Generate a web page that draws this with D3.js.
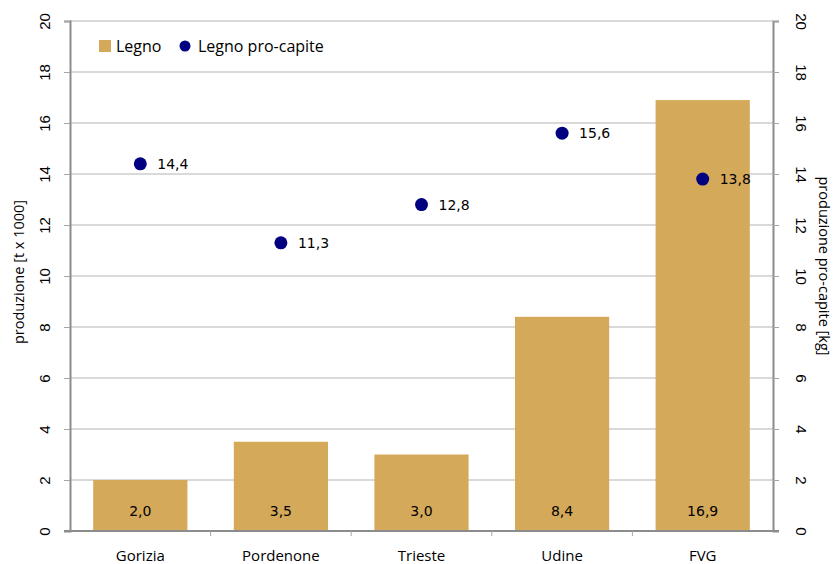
<!DOCTYPE html>
<html><head><meta charset="utf-8">
<script src="https://cdn.jsdelivr.net/npm/d3@7"></script>
<style>body{margin:0;background:#fff}</style>
</head><body>
<svg id="c" width="837" height="564"></svg>
<script>
const categories = ["Gorizia","Pordenone","Trieste","Udine","FVG"];
const legno = [2.0, 3.5, 3.0, 8.4, 16.9];
const proCapite = [14.4, 11.3, 12.8, 15.6, 13.8];
const ticks = [0,2,4,6,8,10,12,14,16,18,20];
const fmt = v => d3.format(".1f")(v).replace(".", ",");

const svg = d3.select("#c");
const L = 70, R = 773, T = 21, B = 531;
const x = d3.scaleBand().domain(categories).range([L, R]).paddingInner(0.33).paddingOuter(0.165);
const y = d3.scaleLinear().domain([0,20]).range([B, T]);
const y2 = d3.scaleLinear().domain([0,20]).range([B, T]);
const tickFont = "Liberation Sans, Arial, sans-serif";
const textFont = "Open Sans, Noto Sans, sans-serif";

// gridlines
svg.append("g").selectAll("line").data(ticks.slice(1)).join("line")
  .attr("x1", L).attr("x2", R).attr("y1", d => y(d)).attr("y2", d => y(d))
  .attr("stroke", "#b3b3b3").attr("stroke-width", 1);

// bars
svg.append("g").selectAll("rect").data(legno).join("rect")
  .attr("x", (d,i) => x(categories[i])).attr("width", x.bandwidth())
  .attr("y", d => y(d)).attr("height", d => B - y(d))
  .attr("fill", "#d4a95a");

// axes
const gl = svg.append("g").attr("transform", `translate(${L},0)`)
  .call(d3.axisLeft(y).tickValues(ticks).tickSize(6).tickPadding(0).tickFormat(d3.format("d")));
const gr = svg.append("g").attr("transform", `translate(${R},0)`)
  .call(d3.axisRight(y2).tickValues(ticks).tickSize(6).tickPadding(0).tickFormat(d3.format("d")));
[gl, gr].forEach(g => {
  g.select(".domain").attr("stroke", "#8c8c8c").attr("stroke-width", 2);
  g.selectAll(".tick line").attr("stroke", "#a6a6a6");
  g.selectAll(".tick text").attr("font-family", tickFont).attr("font-size", 15).attr("fill", "#000");
});
gl.selectAll(".tick text").attr("transform", "translate(-25,0) rotate(-90)").attr("text-anchor", "middle").attr("dy", "0.35em").attr("x", 0);
gr.selectAll(".tick text").attr("transform", "translate(28,0) rotate(90)").attr("text-anchor", "middle").attr("dy", "0.35em").attr("x", 0);

// bottom axis
svg.append("line").attr("x1", L - 6).attr("x2", R + 6).attr("y1", B).attr("y2", B)
  .attr("stroke", "#8c8c8c").attr("stroke-width", 2);
const bounds = categories.slice(1).map(c => x(c) - x.step() * x.paddingInner() / 2);
svg.append("g").selectAll("line").data(bounds).join("line")
  .attr("x1", d => d).attr("x2", d => d).attr("y1", B).attr("y2", B + 5)
  .attr("stroke", "#a6a6a6");
svg.append("g").selectAll("text").data(categories).join("text")
  .attr("x", d => x(d) + x.bandwidth()/2).attr("y", 561)
  .attr("text-anchor", "middle").attr("font-family", textFont).attr("font-size", 15)
  .text(d => d);

// bar labels
svg.append("g").selectAll("text").data(legno).join("text")
  .attr("x", (d,i) => x(categories[i]) + x.bandwidth()/2).attr("y", 516)
  .attr("text-anchor", "middle").attr("font-family", "DejaVu Sans, sans-serif").attr("font-size", 14)
  .text(d => fmt(d));

// points
svg.append("g").selectAll("circle").data(proCapite).join("circle")
  .attr("cx", (d,i) => x(categories[i]) + x.bandwidth()/2).attr("cy", d => y2(d))
  .attr("r", 6.5).attr("fill", "#000080");
svg.append("g").selectAll("text").data(proCapite).join("text")
  .attr("x", (d,i) => x(categories[i]) + x.bandwidth()/2 + 17).attr("y", d => y2(d) + 5)
  .attr("font-family", "DejaVu Sans, sans-serif").attr("font-size", 14)
  .text(d => fmt(d));

// axis titles
svg.append("text").attr("transform", "translate(24,272) rotate(-90)").attr("text-anchor", "middle")
  .attr("font-family", textFont).attr("font-size", 14.5).text("produzione [t x 1000]");
svg.append("text").attr("transform", "translate(819,266) rotate(90)").attr("text-anchor", "middle")
  .attr("font-family", textFont).attr("font-size", 14.5).text("produzione pro-capite [kg]");

// legend
const lg = svg.append("g");
lg.append("rect").attr("x", 99).attr("y", 40).attr("width", 12).attr("height", 12).attr("fill", "#d4a95a");
lg.append("text").attr("x", 116).attr("y", 52).attr("font-family", textFont).attr("font-size", 16).text("Legno");
lg.append("circle").attr("cx", 185).attr("cy", 46).attr("r", 5.5).attr("fill", "#000080");
lg.append("text").attr("x", 198).attr("y", 52).attr("font-family", textFont).attr("font-size", 16).text("Legno pro-capite");
</script>
</body></html>
